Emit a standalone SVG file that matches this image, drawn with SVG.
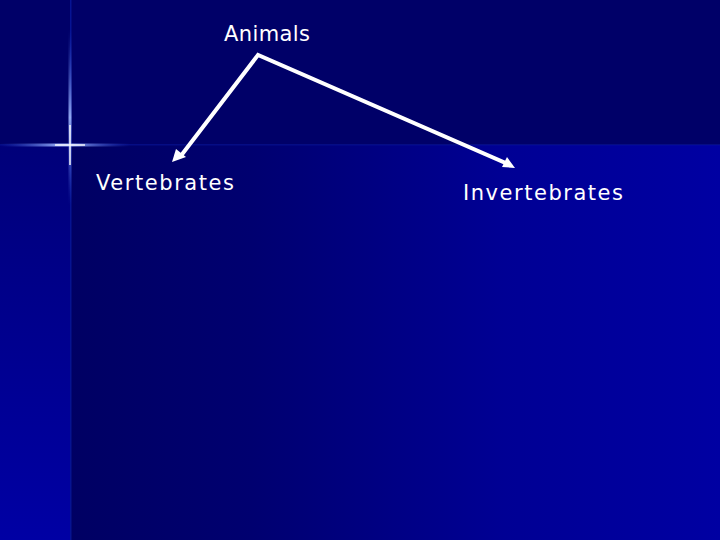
<svg xmlns="http://www.w3.org/2000/svg" width="720" height="540" viewBox="0 0 720 540">
<defs>
<linearGradient id="bgMain" x1="0" y1="0" x2="1" y2="0">
<stop offset="0" stop-color="#00005e"/>
<stop offset="0.35" stop-color="#000070"/>
<stop offset="0.7" stop-color="#000094"/>
<stop offset="1" stop-color="#0000a2"/>
</linearGradient>
<linearGradient id="bgLeft" x1="0" y1="0" x2="0" y2="1">
<stop offset="0" stop-color="#00006a"/>
<stop offset="1" stop-color="#0000a4"/>
</linearGradient>
<linearGradient id="hGlow" x1="0" y1="0" x2="1" y2="0">
<stop offset="0" stop-color="#3050d0" stop-opacity="0"/>
<stop offset="0.45" stop-color="#a0b8ff" stop-opacity="0.9"/>
<stop offset="0.55" stop-color="#a0b8ff" stop-opacity="0.9"/>
<stop offset="1" stop-color="#3050d0" stop-opacity="0"/>
</linearGradient>
<linearGradient id="vGlow" x1="0" y1="0" x2="0" y2="1">
<stop offset="0" stop-color="#3050d0" stop-opacity="0"/>
<stop offset="0.5" stop-color="#a0b8ff" stop-opacity="0.9"/>
<stop offset="1" stop-color="#3050d0" stop-opacity="0"/>
</linearGradient>
<style>
.lbl{font-family:"Comic Sans MS","DejaVu Sans",sans-serif;font-size:21px;fill:#ffffff}
.conn{stroke:#ffffff;stroke-width:4;fill:none;stroke-linejoin:miter}
</style>
</defs>
<rect x="0" y="0" width="720" height="540" fill="url(#bgMain)"/>
<rect x="0" y="0" width="70" height="540" fill="url(#bgLeft)"/>
<rect x="0" y="0" width="720" height="145" fill="#000068"/>
<rect x="70" y="0" width="1.5" height="540" fill="#0a20b0" opacity="0.6"/>
<rect x="0" y="144" width="720" height="1.5" fill="#0a18a0" opacity="0.5"/>
<rect x="0" y="143.5" width="130" height="3" fill="url(#hGlow)"/>
<rect x="68.5" y="30" width="3" height="175" fill="url(#vGlow)"/>
<rect x="69.3" y="125" width="1.4" height="40" fill="#ffffff"/>
<rect x="55" y="144.3" width="30" height="1.4" fill="#ffffff"/>
<g id="connectors">
<polyline class="conn" points="180,157 258,55 510,165"/>
<path d="M172,162 L176,149 L186,157 z" fill="#ffffff"/>
<path d="M515,168 L502,167 L507,157 z" fill="#ffffff"/>
</g>
<g id="animals"><text class="lbl" x="224" y="41" textLength="86" lengthAdjust="spacing">Animals</text></g>
<g id="vertebrates"><text class="lbl" x="96" y="190" textLength="138" lengthAdjust="spacing">Vertebrates</text></g>
<g id="invertebrates"><text class="lbl" x="463" y="200" textLength="160" lengthAdjust="spacing">Invertebrates</text></g>
</svg>
